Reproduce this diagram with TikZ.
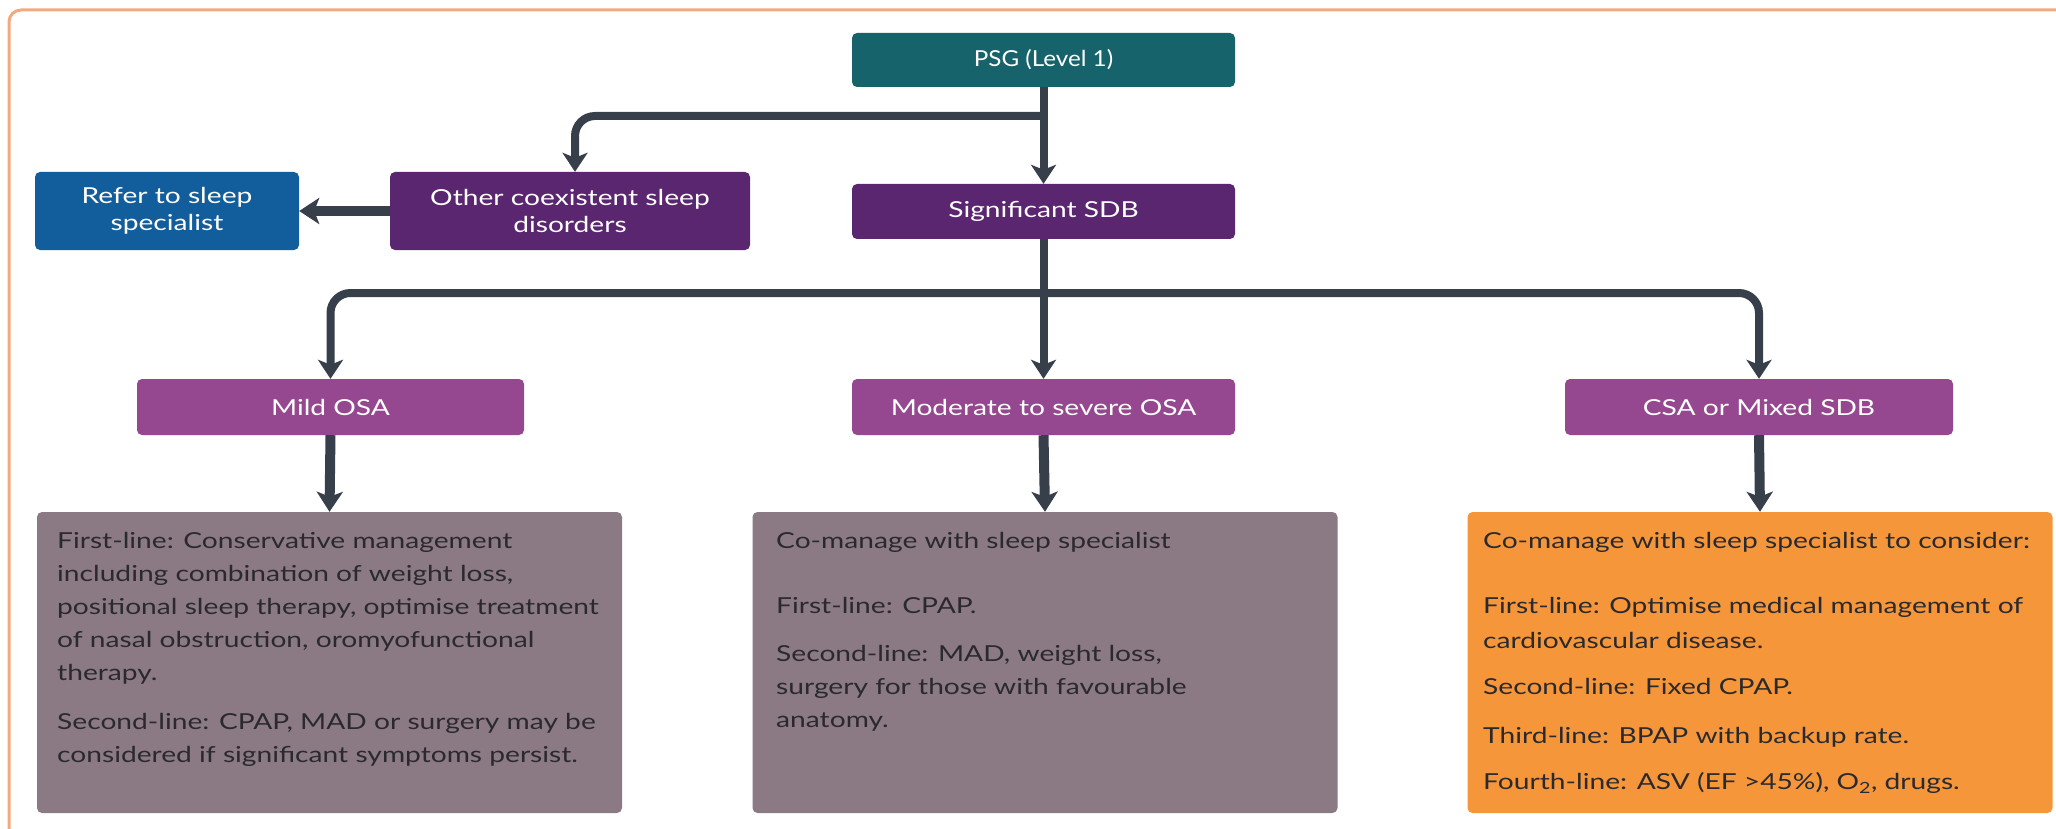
\documentclass[tikz,border=0pt]{standalone}
\usepackage{fontspec}
\setmainfont{Lato}[FakeStretch=1.28]
\newfontfamily\psgfont{Lato}[FakeStretch=1.1]
\usetikzlibrary{arrows.meta}
\definecolor{cteal}{HTML}{16636B}
\definecolor{cdpurple}{HTML}{5A2670}
\definecolor{cblue}{HTML}{125E9C}
\definecolor{cmauve}{HTML}{95488F}
\definecolor{cgrey}{HTML}{8B7A84}
\definecolor{corange}{HTML}{F5963B}
\definecolor{carrow}{HTML}{373F4A}
\definecolor{cframe}{HTML}{F2A97E}
\definecolor{ctext}{HTML}{2A2A2E}
\begin{document}
\begin{tikzpicture}[x=1pt,y=-1pt,
  hbox/.style={rounded corners=5pt, inner sep=0pt, align=center, text=white,
    font=\fontsize{22}{27}\selectfont},
  dbox/.style={rounded corners=5pt, inner sep=0pt, minimum width=585pt, minimum height=301pt},
  dtext/.style={anchor=north west, inner sep=0pt, align=left, text=ctext,
    font=\fontsize{22}{33}\selectfont},
  conn/.style={draw=carrow, line width=8pt, -{Stealth[length=19pt,width=25pt,inset=5pt]}},
  connb/.style={draw=carrow, line width=10pt, -{Stealth[length=20pt,width=26pt,inset=5pt]}}
]
\useasboundingbox (0,0) rectangle (2056,829);
\draw[cframe, line width=3pt, rounded corners=12pt] (9,10) rectangle (2075,840);

% top level
\node[hbox, fill=cteal, minimum width=383pt, minimum height=54pt] (psg) at (1043.5,60) {\psgfont PSG (Level 1)};
\node[hbox, fill=cdpurple, minimum width=383pt, minimum height=55pt] (sdb) at (1043.5,211.5) {Significant SDB};
\node[hbox, fill=cdpurple, minimum width=360pt, minimum height=78pt] (other) at (570,211) {Other coexistent sleep\\disorders};
\node[hbox, fill=cblue, minimum width=264pt, minimum height=78pt] (refer) at (167,211) {Refer to sleep\\specialist};

% second level
\node[hbox, fill=cmauve, minimum width=387pt, minimum height=56pt] (mild) at (330.5,407) {Mild OSA};
\node[hbox, fill=cmauve, minimum width=383pt, minimum height=56pt] (mod) at (1043.5,407) {Moderate to severe OSA};
\node[hbox, fill=cmauve, minimum width=388pt, minimum height=56pt] (csa) at (1759,407) {CSA or Mixed SDB};

% detail boxes
\node[dbox, fill=cgrey] (mildd) at (329.5,662.5) {};
\node[dbox, fill=cgrey] (modd) at (1045,662.5) {};
\node[dbox, fill=corange] (csad) at (1760,662.5) {};

\node[dtext] (mildt) at (57,532) {First-line: Conservative management\\
including combination of weight loss,\\
positional sleep therapy, optimise treatment\\
of nasal obstruction, oromyofunctional\\
therapy.\\[16pt]
Second-line: CPAP, MAD or surgery may be\\
considered if significant symptoms persist.};

\node[dtext] (modt) at (776,532) {Co-manage with sleep specialist\\[32pt]
First-line: CPAP.\\[15pt]
Second-line: MAD, weight loss,\\
surgery for those with favourable\\
anatomy.};

\node[dtext] (csat) at (1483,532) {Co-manage with sleep specialist to consider:\\[32pt]
First-line: Optimise medical management of\\[2pt]
cardiovascular disease.\\[13pt]
Second-line: Fixed CPAP.\\[16pt]
Third-line: BPAP with backup rate.\\[13pt]
Fourth-line: ASV (EF >45\%), O\textsubscript{2}, drugs.};

% connectors
\coordinate (j1) at (1043.5,116);
\coordinate (j2) at (1043.5,293);
\draw[conn] (psg.south) -- (sdb.north);
\draw[conn, rounded corners=20pt] (j1) -| ([xshift=5pt]other.north);
\draw[conn] (sdb.south) -- (mod.north);
\draw[conn, rounded corners=20pt] (j2) -| (mild.north);
\draw[conn, rounded corners=20pt] (j2) -| (csa.north);
\draw[connb] (other.west) -- (refer.east);
\draw[connb] (mild.south) -- (mildd.north);
\draw[connb] (mod.south) -- (modd.north);
\draw[connb] (csa.south) -- (csad.north);
\end{tikzpicture}
\end{document}
